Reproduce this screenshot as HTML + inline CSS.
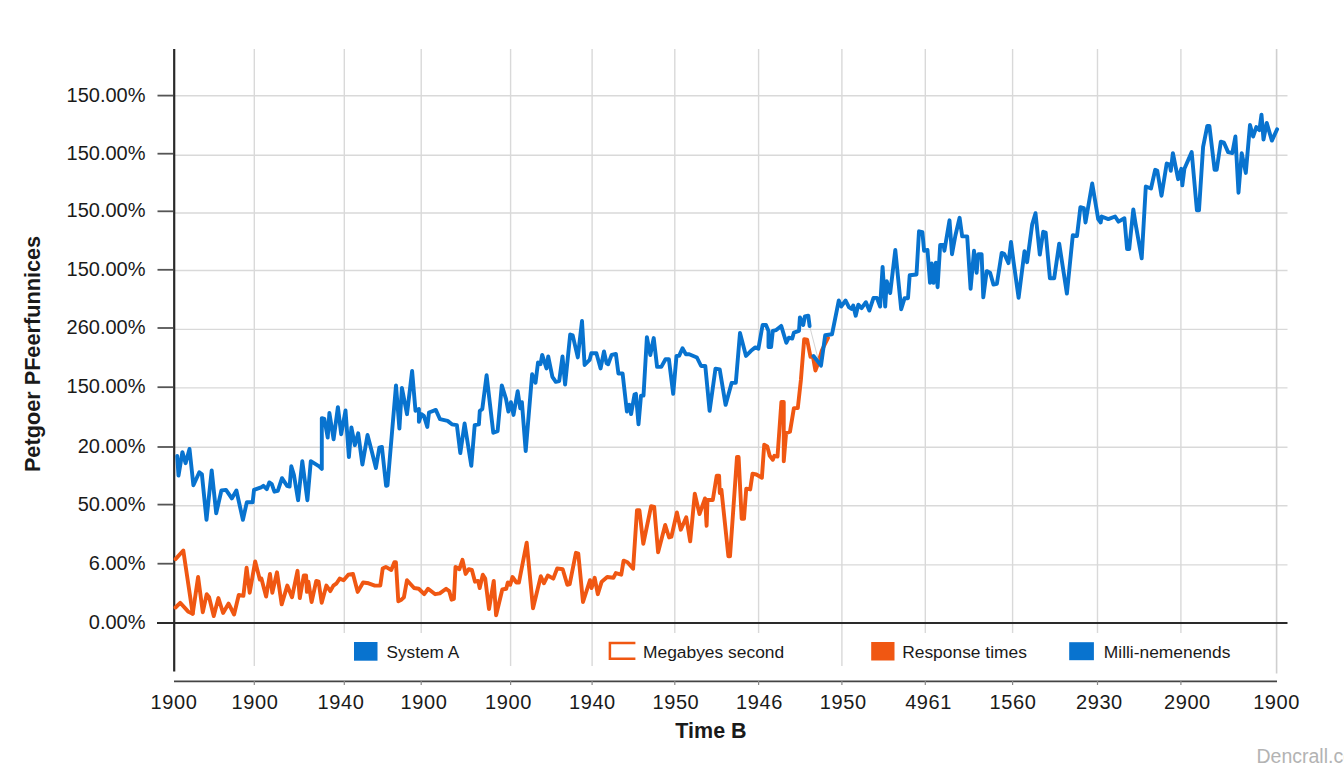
<!DOCTYPE html><html><head><meta charset="utf-8"><style>html,body{margin:0;padding:0;background:#fff;width:1344px;height:768px;overflow:hidden}svg{display:block}text{font-family:"Liberation Sans",sans-serif;fill:#1a1a1a}</style></head><body>
<svg width="1344" height="768" viewBox="0 0 1344 768">
<line x1="175" y1="95.7" x2="1287.5" y2="95.7" stroke="#d9d9d9" stroke-width="1.4"/>
<line x1="175" y1="155.3" x2="1287.5" y2="155.3" stroke="#d9d9d9" stroke-width="1.4"/>
<line x1="175" y1="213" x2="1287.5" y2="213" stroke="#d9d9d9" stroke-width="1.4"/>
<line x1="175" y1="270.5" x2="1287.5" y2="270.5" stroke="#d9d9d9" stroke-width="1.4"/>
<line x1="175" y1="329.4" x2="1287.5" y2="329.4" stroke="#d9d9d9" stroke-width="1.4"/>
<line x1="175" y1="387.9" x2="1287.5" y2="387.9" stroke="#d9d9d9" stroke-width="1.4"/>
<line x1="175" y1="447.2" x2="1287.5" y2="447.2" stroke="#d9d9d9" stroke-width="1.4"/>
<line x1="175" y1="505.8" x2="1287.5" y2="505.8" stroke="#d9d9d9" stroke-width="1.4"/>
<line x1="175" y1="564.9" x2="1287.5" y2="564.9" stroke="#d9d9d9" stroke-width="1.4"/>
<line x1="254.3" y1="49" x2="254.3" y2="666" stroke="#d9d9d9" stroke-width="1.4"/>
<line x1="344.3" y1="49" x2="344.3" y2="633" stroke="#d9d9d9" stroke-width="1.4"/>
<line x1="421.2" y1="49" x2="421.2" y2="633" stroke="#d9d9d9" stroke-width="1.4"/>
<line x1="510.6" y1="49" x2="510.6" y2="666" stroke="#d9d9d9" stroke-width="1.4"/>
<line x1="592.1" y1="49" x2="592.1" y2="666" stroke="#d9d9d9" stroke-width="1.4"/>
<line x1="674.8" y1="49" x2="674.8" y2="633" stroke="#d9d9d9" stroke-width="1.4"/>
<line x1="758.6" y1="49" x2="758.6" y2="633" stroke="#d9d9d9" stroke-width="1.4"/>
<line x1="841.9" y1="49" x2="841.9" y2="666" stroke="#d9d9d9" stroke-width="1.4"/>
<line x1="925.3" y1="49" x2="925.3" y2="633" stroke="#d9d9d9" stroke-width="1.4"/>
<line x1="1012.6" y1="49" x2="1012.6" y2="633" stroke="#d9d9d9" stroke-width="1.4"/>
<line x1="1097.5" y1="49" x2="1097.5" y2="633" stroke="#d9d9d9" stroke-width="1.4"/>
<line x1="1180.9" y1="49" x2="1180.9" y2="633" stroke="#d9d9d9" stroke-width="1.4"/>
<line x1="1276.6" y1="49" x2="1276.6" y2="673.5" stroke="#cfcfcf" stroke-width="1.6"/>
<line x1="157.5" y1="95.6" x2="173" y2="95.6" stroke="#555" stroke-width="1.8"/>
<line x1="157.5" y1="153.7" x2="173" y2="153.7" stroke="#555" stroke-width="1.8"/>
<line x1="157.5" y1="211.3" x2="173" y2="211.3" stroke="#555" stroke-width="1.8"/>
<line x1="157.5" y1="269.8" x2="173" y2="269.8" stroke="#555" stroke-width="1.8"/>
<line x1="157.5" y1="328" x2="173" y2="328" stroke="#555" stroke-width="1.8"/>
<line x1="157.5" y1="387.2" x2="173" y2="387.2" stroke="#555" stroke-width="1.8"/>
<line x1="157.5" y1="447" x2="173" y2="447" stroke="#555" stroke-width="1.8"/>
<line x1="157.5" y1="504.6" x2="173" y2="504.6" stroke="#555" stroke-width="1.8"/>
<line x1="157.5" y1="563.7" x2="173" y2="563.7" stroke="#555" stroke-width="1.8"/>
<line x1="157" y1="623" x2="1287.5" y2="623" stroke="#2a2a2a" stroke-width="2"/>
<line x1="174" y1="681.4" x2="1277" y2="681.4" stroke="#444" stroke-width="1.8"/>
<line x1="254.3" y1="681" x2="254.3" y2="685" stroke="#888" stroke-width="1.2"/>
<line x1="344.3" y1="681" x2="344.3" y2="685" stroke="#888" stroke-width="1.2"/>
<line x1="421.2" y1="681" x2="421.2" y2="685" stroke="#888" stroke-width="1.2"/>
<line x1="510.6" y1="681" x2="510.6" y2="685" stroke="#888" stroke-width="1.2"/>
<line x1="592.1" y1="681" x2="592.1" y2="685" stroke="#888" stroke-width="1.2"/>
<line x1="674.8" y1="681" x2="674.8" y2="685" stroke="#888" stroke-width="1.2"/>
<line x1="758.6" y1="681" x2="758.6" y2="685" stroke="#888" stroke-width="1.2"/>
<line x1="841.9" y1="681" x2="841.9" y2="685" stroke="#888" stroke-width="1.2"/>
<line x1="925.3" y1="681" x2="925.3" y2="685" stroke="#888" stroke-width="1.2"/>
<line x1="1012.6" y1="681" x2="1012.6" y2="685" stroke="#888" stroke-width="1.2"/>
<line x1="1097.5" y1="681" x2="1097.5" y2="685" stroke="#888" stroke-width="1.2"/>
<line x1="1180.9" y1="681" x2="1180.9" y2="685" stroke="#888" stroke-width="1.2"/>
<line x1="174.2" y1="49" x2="174.2" y2="671.5" stroke="#2a2a2a" stroke-width="2.2"/>
<text x="145.5" y="101.6" font-size="20" text-anchor="end">150.00%</text>
<text x="145.5" y="159.7" font-size="20" text-anchor="end">150.00%</text>
<text x="145.5" y="217.3" font-size="20" text-anchor="end">150.00%</text>
<text x="145.5" y="275.8" font-size="20" text-anchor="end">150.00%</text>
<text x="145.5" y="334" font-size="20" text-anchor="end">260.00%</text>
<text x="145.5" y="393.2" font-size="20" text-anchor="end">150.00%</text>
<text x="145.5" y="453" font-size="20" text-anchor="end">20.00%</text>
<text x="145.5" y="510.6" font-size="20" text-anchor="end">50.00%</text>
<text x="145.5" y="569.7" font-size="20" text-anchor="end">6.00%</text>
<text x="145.5" y="628.6" font-size="20" text-anchor="end">0.00%</text>
<text x="174" y="708.5" font-size="20" text-anchor="middle" letter-spacing="0.6">1900</text>
<text x="255" y="708.5" font-size="20" text-anchor="middle" letter-spacing="0.6">1900</text>
<text x="341" y="708.5" font-size="20" text-anchor="middle" letter-spacing="0.6">1940</text>
<text x="424" y="708.5" font-size="20" text-anchor="middle" letter-spacing="0.6">1900</text>
<text x="508.5" y="708.5" font-size="20" text-anchor="middle" letter-spacing="0.6">1900</text>
<text x="592.4" y="708.5" font-size="20" text-anchor="middle" letter-spacing="0.6">1940</text>
<text x="675.9" y="708.5" font-size="20" text-anchor="middle" letter-spacing="0.6">1950</text>
<text x="759.5" y="708.5" font-size="20" text-anchor="middle" letter-spacing="0.6">1946</text>
<text x="843.3" y="708.5" font-size="20" text-anchor="middle" letter-spacing="0.6">1950</text>
<text x="928.6" y="708.5" font-size="20" text-anchor="middle" letter-spacing="0.6">4961</text>
<text x="1013" y="708.5" font-size="20" text-anchor="middle" letter-spacing="0.6">1560</text>
<text x="1099.4" y="708.5" font-size="20" text-anchor="middle" letter-spacing="0.6">2930</text>
<text x="1187.4" y="708.5" font-size="20" text-anchor="middle" letter-spacing="0.6">2900</text>
<text x="1276.6" y="708.5" font-size="20" text-anchor="middle" letter-spacing="0.6">1900</text>
<text x="711" y="738" font-size="21.5" font-weight="bold" text-anchor="middle">Time B</text>
<text transform="translate(39.5,354) rotate(-90)" font-size="21.7" font-weight="bold" text-anchor="middle">Petgoer PFeerfunnices</text>
<text x="1256.5" y="762.5" font-size="19.5" fill="#b3b3b3" style="fill:#b3b3b3">Dencrall.co</text>
<polyline points="175.5,607.5 180.2,602.8 188,611.4 192.7,613.75 198.1,577 202.8,612.2 206.7,594.2 209.1,597.3 213.75,616.1 218.4,598.1 223.1,613 228.6,603.6 234.1,614.5 238.75,595 243.4,595.8 246.6,567.7 249.7,592.7 255.2,561.4 259.8,579.4 261.4,578.6 266.1,596.6 270,573.9 272.3,592.7 277,572.3 281.7,604.4 287.3,585.6 292,597.3 297.5,570.8 299.8,598.1 303.75,575.5 306.1,575.5 306.9,591.9 308.4,581.7 311.6,602 316.25,580.9 318.6,581.7 321.7,602.8 326.4,585.6 330.3,591.1 333.4,585.6 336.6,583.3 339.7,578.6 343.6,580.2 348.3,574.7 353,573.9 357.7,591.9 363.1,582.5 368.6,583.3 374.8,585.6 380.3,585.6 382.7,568.4 385.8,566.9 391.25,570 394.4,562.2 395.9,562.2 398.3,601.25 401.4,599.7 403.9,597.3 407,580.2 414.1,588 418.75,588.75 424.2,594.2 428.1,588.75 435.2,594.2 439.8,593.4 446.1,588.75 449.2,591.1 451.6,599.7 453.9,598.9 455.5,566.9 459.4,569.2 462.5,559.8 465.6,573.9 468.75,569.2 471.9,570 475,581.7 478.1,580.9 479.7,588 482.8,574.7 485.2,578.6 489,609.1 493.75,580.9 496.1,615.3 502.3,589.5 506.25,588.75 507.8,582.5 510.2,584.8 512.5,577 516.4,582.5 518.9,582.5 526.7,542.7 533,608.3 540.8,576.25 543.9,583.3 547.8,575.5 553.3,578.6 557.2,568.4 562.7,569.2 567.3,584.8 569.7,584.1 575.9,552.8 578.3,553.6 583,602 590,580.2 591.6,588 594.7,577.8 597.8,594.2 601.7,581.7 607.2,577 613.4,577.8 615.8,573.1 621.25,574.7 623.6,560.6 627.5,562.2 633.1,568.75 637,510.2 639.4,510.2 643.3,543.75 651.1,506.25 654.2,507 658.1,552.3 665.2,525 669.1,537.5 671.4,536.7 676.9,512.5 680.8,529.7 686.25,517.2 690.2,541.4 694.8,493.75 699.5,514.1 705,498.4 706.6,525.8 707.5,500 712.8,500 716.7,475.8 719.1,475.8 719.8,493 721.4,489.8 728.4,556.25 730,556.25 737,457 738.6,457 741.7,518.75 744,518.75 746.25,488.6 750.2,489.4 752.5,473.75 756.4,474.5 761.9,477.7 764.2,444.8 767.3,446.4 769.7,455.8 772.8,459.7 774.4,455.8 777.5,456.6 781.4,401.9 783.75,401.9 783.75,461.25 786.1,433.1 790,431.6 793.9,408.1 797.8,408.1 800.9,380 804.2,339.2 807.1,339.7 810.5,356.8 813,356.8 815.4,370.5 818.3,362.7 822,350 828,338" fill="none" stroke="#f05712" stroke-width="3.9" stroke-linejoin="round" stroke-linecap="round"/>
<polyline points="175.5,559.1 183.3,550.5 192.7,613.75" fill="none" stroke="#f05712" stroke-width="3.9" stroke-linejoin="round" stroke-linecap="round"/>
<line x1="809.6" y1="326" x2="819.3" y2="363.6" stroke="#c8c8c8" stroke-width="0.8"/>
<polyline points="177.2,456.0 178.5,475.6 182.4,452.1 185.6,463.2 189.5,448.9 193.4,485.3 199.3,472.3 201.9,474.3 206.5,519.8 211.7,470.4 216.2,513.3 221.4,490.5 226,489.9 231.8,498.4 236.4,490.5 242.9,519.8 246.8,502.3 252.7,502.3 254,489.9 261.1,487.3 263.4,485.8 266.8,489.2 269.3,482.4 271.8,484.1 274.4,491.7 277.8,490.9 282,478.2 287.1,485.8 289.6,486.6 291.3,466.3 293.9,474.8 298.1,500.2 302.3,461.2 307.4,500.2 310.8,461.2 319.2,466.3 321.8,468.9 321.8,418.1 324.3,418.9 327.7,437.5 329.4,413 333.6,439.2 337.9,407.1 341.2,434.2 345.5,410.5 348.9,457 351.4,427.4 354.8,445.2 358.2,433.3 362.4,464.6 367.5,435 371.7,451.1 375.9,468 379.3,447.7 381.9,446.9 386.1,485.8 387.5,485.3 396,385.4 399.4,428.6 401.9,387.9 407,414.2 412.1,371 415.5,410.8 418.9,409.1 418.9,421.8 421.4,414.2 423.9,415.9 427.3,426.9 429,412.5 435.8,409.9 440,419.2 447.6,420.9 451.9,424.3 456.9,425.2 460.3,453.1 464.6,423.5 471.3,465.8 474.7,425.2 478.9,424.3 479.8,410.8 482.3,409.1 486.6,375.2 493.3,432.8 497.6,431.1 501.8,385.4 506,398.9 508.4,411.6 510.9,402.2 513.5,414.9 517.7,391.2 520.2,408.2 521.9,402.2 525.7,451 532.1,374.3 535.5,382.8 538,362.5 540.5,364.2 542.2,354.9 546.5,368.4 548.2,356.5 552.4,376.9 555.8,381.9 559.2,381.1 562.5,356.5 565.1,384.5 570.2,334.5 572.7,335.4 577.8,357.4 582,321 584.6,365 589.6,359.9 591.3,353.2 596.4,353.2 600.6,368.4 604,351.5 606.6,363.3 608.2,364.2 611.6,354.9 615.9,354 618.4,373.5 622.6,373.5 626.9,411.6 629.4,404.8 631.1,414.1 634.5,394.6 635.9,393.9 638.5,424.4 641,395.6 643.5,395.6 646.9,337.2 650.3,355 653.7,338.1 657.1,366.9 661.3,366.9 665.5,359.2 668.9,359.2 673.2,393.9 676.5,355.9 679.1,355.9 682.5,348.2 685.9,354.2 689.2,354.2 696.9,357.5 701.1,366 705.3,366 709.6,410.9 715.5,368.6 719.7,369.4 725.6,404.9 731.6,382.9 735.8,382.9 740,333 746,355.9 751,350.8 755.3,347.4 758.4,348.7 762.6,325 766,325 768.5,330.9 768.5,347 771.1,347 772.8,330.9 776.2,330.1 781.2,325.9 786.3,342.8 788.9,337.7 792.2,338.6 793.9,332.6 799,330.9 799.9,317.4 803.2,325 804.9,316.5 808.3,315.7 809.6,326" fill="none" stroke="#0873cf" stroke-width="3.9" stroke-linejoin="round" stroke-linecap="round"/>
<polyline points="813.5,356 821,365.6 825.2,335.3 832,334.3 838.8,300.5 841.3,306.4 845.6,300.5 848.9,307.2 851.5,308.9 853.2,305.5 855.7,315.7 858.3,304.7 861.6,308.1 865.9,302.2 869.3,310.6 873.5,297.9 876.9,297.9 880.1,306.6 882.6,266.9 885.2,306.6 886.8,281.2 890.2,293.1 895.3,249.9 901.2,309.2 904.6,298.2 908,298.2 909.7,275.3 916.5,274.5 919,231.3 922.4,232.2 924.1,250.8 927.5,249.9 930,282.9 931.7,263.5 933.4,282.9 935.9,262.6 937.6,287.2 940.2,244.9 943.6,244.9 944.4,250.8 949.5,220.3 952,254.2 955.4,235.5 959.6,217.8 962.2,236.4 967.2,236.4 970.6,288.9 974,250.8 976.6,272.8 978.3,254.2 981.6,254.2 983.3,297.3 986.7,271.1 990.1,272.8 993.5,284.6 996.9,283.8 1001.7,252.9 1004.2,253.8 1008.5,263.1 1011,241.9 1013.5,261.4 1018.6,297.8 1024.5,251.2 1027.1,262.2 1032.2,224.2 1035.5,213.2 1039.8,254.6 1043.2,231.8 1045.7,232.6 1049.9,278.3 1054.2,278.3 1059.2,243.6 1066.9,293.6 1072.8,235.2 1077,236 1080.4,207.2 1083.8,208.1 1085.5,222.5 1092.2,183.5 1098.2,219.1 1100.7,222.5 1101.6,216.5 1108.3,219.1 1115.1,216.5 1118.5,221.6 1124.4,218.2 1127.1,249 1129.2,249 1133.3,209.4 1135.4,222.9 1141.7,258.3 1145.8,186.5 1151,188.5 1155.2,169.8 1157.3,170.8 1161.5,195.8 1166.7,163.5 1169.8,164.6 1170.8,170.8 1172.9,153.1 1178.1,179.2 1181.3,168.8 1182.3,185.4 1184.4,168.8 1191.7,152.1 1196.9,210.4 1199,210.4 1203.1,146.9 1207.3,126 1209.4,126 1214.6,169.8 1216.7,169.8 1220.8,141.7 1224,142.7 1228.1,152.1 1232.3,153.1 1235.4,136.5 1238.5,192.7 1241.7,153.1 1245.8,172.9 1250,125 1253.1,136.5 1256.3,127.1 1259.4,130.2 1261.5,114.6 1263.5,139.6 1266.7,122.9 1271.9,140.6 1277.1,129.2" fill="none" stroke="#0873cf" stroke-width="3.9" stroke-linejoin="round" stroke-linecap="round"/>
<rect x="354" y="642" width="23.5" height="18.7" fill="#0873cf"/>
<text x="386.5" y="658" font-size="17.2">System A</text>
<path d="M635.4,642.9 H609.9 V658.8 H635.4" fill="none" stroke="#f05712" stroke-width="2.5"/>
<text x="643" y="658" font-size="17.4">Megabyes second</text>
<rect x="871.2" y="642" width="23.3" height="18.5" fill="#f05712"/>
<text x="902.2" y="658" font-size="17.4">Response times</text>
<rect x="1069.2" y="642.2" width="24.7" height="18" fill="#0873cf"/>
<text x="1103.8" y="658" font-size="17.4">Milli-nemenends</text>
</svg></body></html>
